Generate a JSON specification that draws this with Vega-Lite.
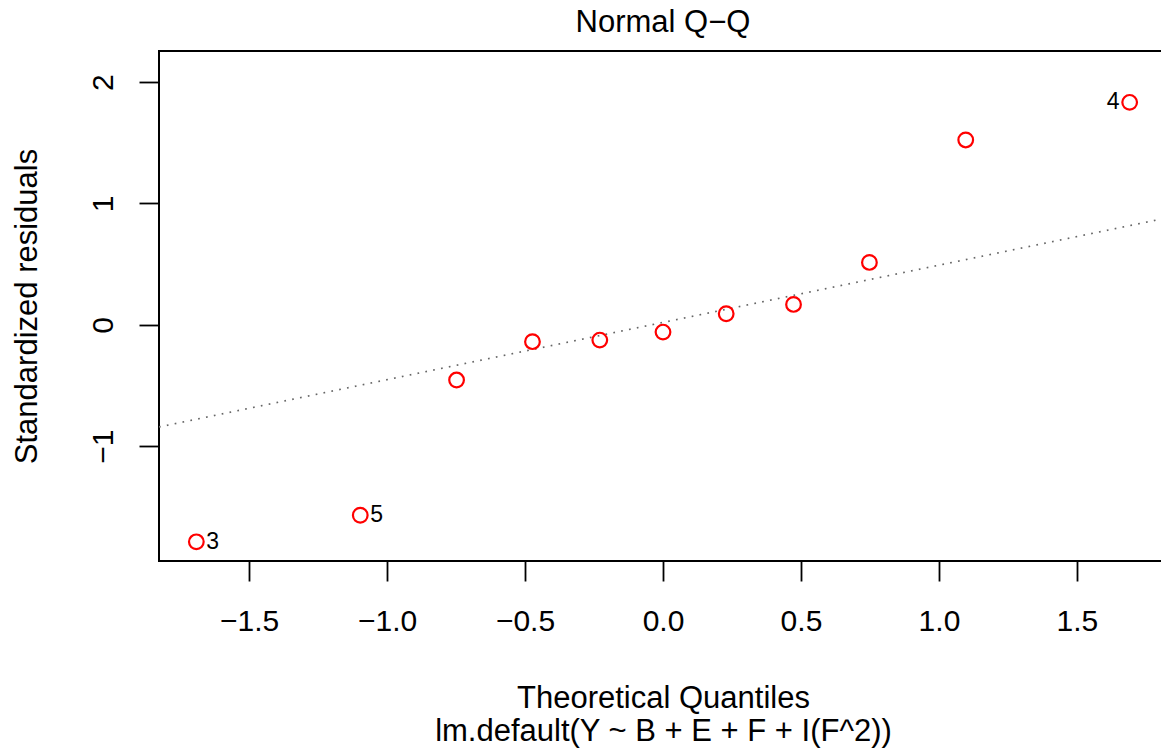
{
  "$schema": "https://vega.github.io/schema/vega-lite/v6.json",
  "autosize": {"type": "none"},
  "padding": {"left": 159, "top": 51, "right": 0, "bottom": 189},
  "width": 1008,
  "height": 510,
  "background": "white",
  "config": {
    "font": "Liberation Sans",
    "view": {"stroke": "black", "strokeWidth": 2}
  },
  "title": {
    "text": "Normal Q−Q",
    "fontSize": 31,
    "fontWeight": "normal",
    "color": "black",
    "anchor": "middle",
    "baseline": "alphabetic",
    "offset": -12
  },
  "datasets": {
    "pts": [
      {"q": -1.691, "r": -1.788, "label": "3"},
      {"q": -1.097, "r": -1.569, "label": "5"},
      {"q": -0.748, "r": -0.455, "label": ""},
      {"q": -0.473, "r": -0.139, "label": ""},
      {"q": -0.229, "r": -0.126, "label": ""},
      {"q": 0.0, "r": -0.060, "label": ""},
      {"q": 0.229, "r": 0.091, "label": ""},
      {"q": 0.473, "r": 0.168, "label": ""},
      {"q": 0.748, "r": 0.514, "label": ""},
      {"q": 1.097, "r": 1.523, "label": ""},
      {"q": 1.691, "r": 1.833, "label": "4"}
    ],
    "qqline": [
      {"q": -1.8263, "r": -0.8417},
      {"q": 1.8263, "r": 0.8809}
    ]
  },
  "encoding": {
    "x": {
      "field": "q",
      "type": "quantitative",
      "scale": {"domain": [-1.8263, 1.8263], "nice": false, "zero": false},
      "axis": {
        "values": [-1.5, -1, -0.5, 0, 0.5, 1, 1.5],
        "format": ".1f",
        "domain": false,
        "grid": false,
        "ticks": true,
        "tickSize": 20,
        "tickWidth": 1.8,
        "tickColor": "black",
        "labelFontSize": 30,
        "labelColor": "black",
        "labelPadding": 25,
        "labelFlush": false,
        "labelOverlap": false,
        "title": ["Theoretical Quantiles", "lm.default(Y ~ B + E + F + I(F^2))"],
        "titleFontSize": 31,
        "titleFontWeight": "normal",
        "titleColor": "black",
        "titleLineHeight": 33,
        "titlePadding": 47
      }
    },
    "y": {
      "field": "r",
      "type": "quantitative",
      "scale": {"domain": [-1.946, 2.256], "nice": false, "zero": false},
      "axis": {
        "values": [-1, 0, 1, 2],
        "format": "d",
        "domain": false,
        "grid": false,
        "tickSize": 20,
        "tickWidth": 1.8,
        "tickColor": "black",
        "labelFontSize": 30,
        "labelColor": "black",
        "labelAngle": -90,
        "labelAlign": "center",
        "labelBaseline": "alphabetic",
        "labelPadding": 27,
        "labelFlush": false,
        "labelOverlap": false,
        "title": "Standardized residuals",
        "titleFontSize": 31,
        "titleFontWeight": "normal",
        "titleColor": "black",
        "titlePadding": 45
      }
    }
  },
  "layer": [
    {
      "data": {"name": "qqline"},
      "mark": {"type": "line", "color": "#666666", "strokeWidth": 1.7, "strokeDash": [1.7, 6.3], "clip": true}
    },
    {
      "data": {"name": "pts"},
      "mark": {"type": "point", "shape": "circle", "filled": false, "color": "#ff0000", "size": 215, "strokeWidth": 2.2, "opacity": 1}
    },
    {
      "data": {"name": "pts"},
      "transform": [{"filter": "datum.label == '3' || datum.label == '5'"}],
      "mark": {"type": "text", "align": "left", "baseline": "middle", "dx": 10, "fontSize": 23, "color": "black"},
      "encoding": {"text": {"field": "label"}}
    },
    {
      "data": {"name": "pts"},
      "transform": [{"filter": "datum.label == '4'"}],
      "mark": {"type": "text", "align": "right", "baseline": "middle", "dx": -10, "fontSize": 23, "color": "black"},
      "encoding": {"text": {"field": "label"}}
    }
  ]
}
